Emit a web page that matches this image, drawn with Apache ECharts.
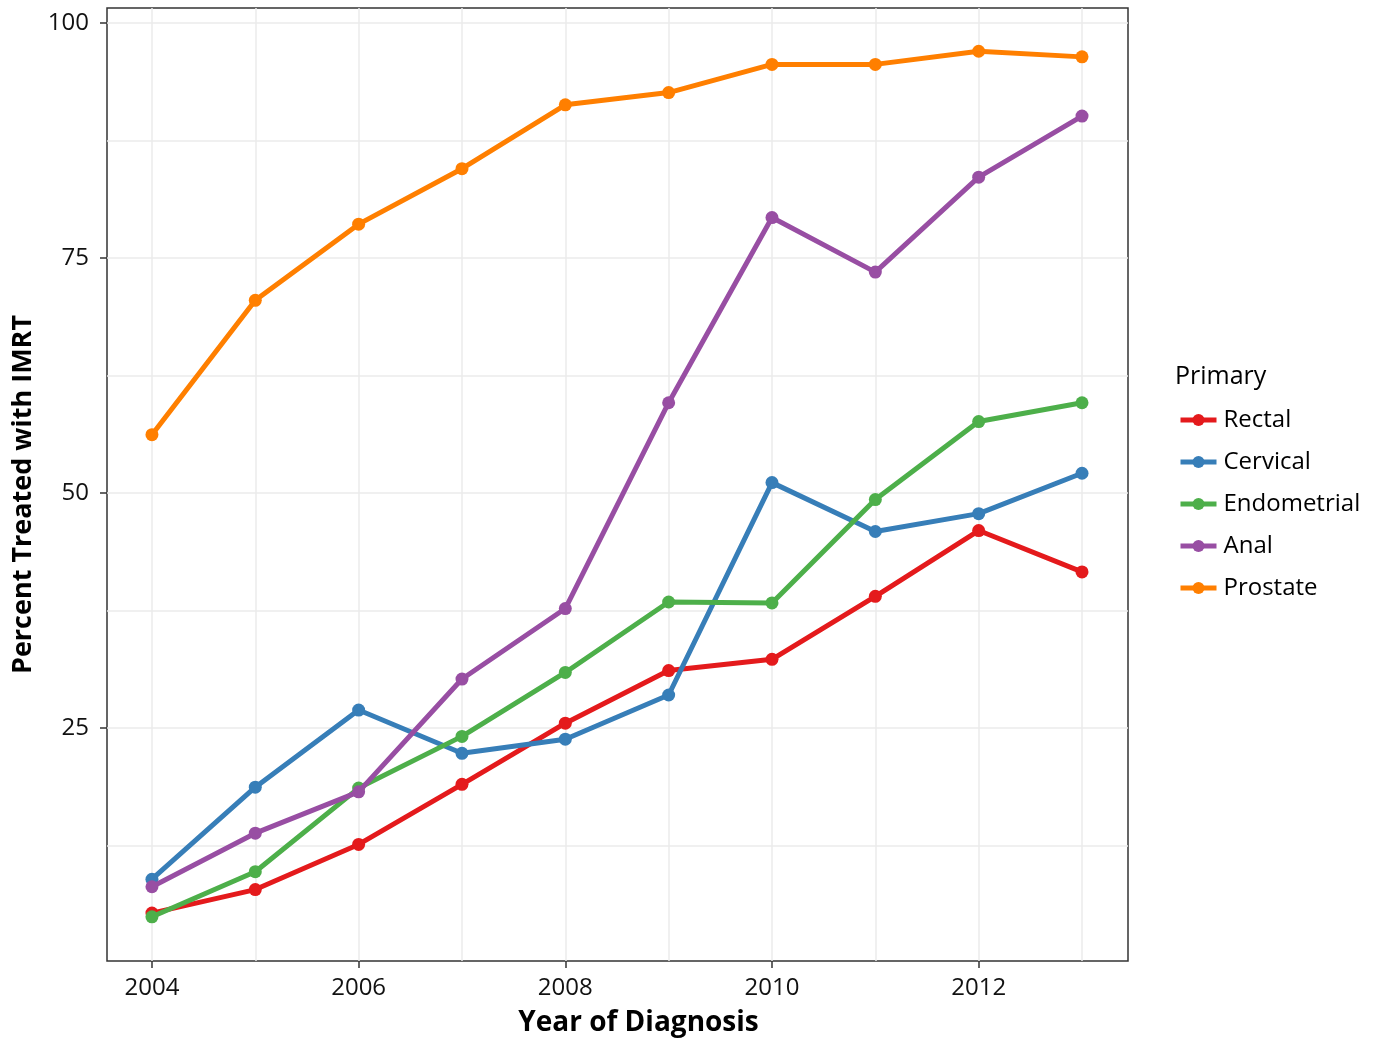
<!DOCTYPE html>
<html>
<head>
<meta charset="utf-8">
<script src="https://cdn.jsdelivr.net/npm/echarts@6/dist/echarts.min.js"></script>
<style>html,body{margin:0;padding:0;background:#fff}#c{width:1375px;height:1045px}</style>
</head>
<body>
<div id="c"></div>
<script>
const years = [2004, 2005, 2006, 2007, 2008, 2009, 2010, 2011, 2012, 2013];
const xTickLabels = [2004, 2006, 2008, 2010, 2012];
const yTickLabels = [25, 50, 75, 100];
const yMinorGrid = [12.5, 25, 37.5, 50, 62.5, 75, 87.5, 100];
const seriesNames = ['Rectal', 'Cervical', 'Endometrial', 'Anal', 'Prostate'];
const rectal      = [5.3, 7.8, 12.6, 19.0, 25.5, 31.1, 32.3, 39.0, 46.0, 41.6];
const cervical    = [8.9, 18.7, 26.9, 22.3, 23.8, 28.5, 51.1, 45.9, 47.8, 52.1];
const endometrial = [4.9, 9.7, 18.6, 24.1, 30.9, 38.4, 38.3, 49.3, 57.6, 59.6];
const anal        = [8.1, 13.8, 18.2, 30.2, 37.7, 59.6, 79.3, 73.5, 83.6, 90.1];
const prostate    = [56.2, 70.5, 78.6, 84.5, 91.3, 92.6, 95.6, 95.6, 97.0, 96.4];
const colors = ['#E41A1C', '#377EB8', '#4DAF4A', '#984EA3', '#FF7F00'];
const allData = [rectal, cervical, endometrial, anal, prostate];

const FONT = 'Open Sans';
const chart = echarts.init(document.getElementById('c'), null, {renderer: 'canvas'});
const gridLine = {show: true, lineStyle: {color: '#ebebeb', width: 1.5}};
const xMin = 2003.565, xMax = 2013.445, yMin = 0.2, yMax = 101.6;

chart.setOption({
  animation: false,
  textStyle: {fontFamily: FONT},
  title: {
    text: 'Primary', left: 1170, top: 359,
    textStyle: {fontFamily: FONT, fontSize: 25, fontWeight: 'normal', color: '#000'}
  },
  legend: {
    orient: 'vertical', left: 1173, top: 403, itemGap: 18,
    itemWidth: 36, itemHeight: 15,
    lineStyle: {width: 5},
    textStyle: {fontFamily: FONT, fontSize: 24, color: '#000', padding: [0, 0, 0, 2]},
    data: seriesNames
  },
  grid: {left: 107, right: 247, top: 8, bottom: 84, show: true, borderColor: '#333', borderWidth: 1.5, backgroundColor: 'transparent'},
  xAxis: [{
    type: 'value', min: xMin, max: xMax,
    name: 'Year of Diagnosis', nameLocation: 'middle', nameGap: 48,
    nameTextStyle: {fontFamily: FONT, fontSize: 28, fontWeight: 'bold', color: '#000', padding: [0, 0, 0, 42]},
    axisLine: {show: false},
    axisTick: {show: true, length: 7, lineStyle: {color: '#333', width: 1.5}, customValues: xTickLabels},
    axisLabel: {customValues: xTickLabels, fontSize: 24, color: '#111', margin: 15, formatter: v => String(v)},
    splitLine: {show: false}
  }, {
    type: 'value', min: xMin, max: xMax, position: 'bottom',
    axisLine: {show: false}, axisLabel: {show: false},
    axisTick: {show: false, customValues: years},
    splitLine: gridLine
  }],
  yAxis: [{
    type: 'value', min: yMin, max: yMax,
    name: 'Percent Treated with IMRT', nameLocation: 'middle', nameGap: 66, nameRotate: 90,
    nameTextStyle: {fontFamily: FONT, fontSize: 27, fontWeight: 'bold', color: '#000', padding: [0, 20, 0, 0]},
    axisLine: {show: false},
    axisTick: {show: true, length: 7, lineStyle: {color: '#333', width: 1.5}, customValues: yTickLabels},
    axisLabel: {customValues: yTickLabels, fontSize: 24, color: '#111', margin: 18, formatter: v => String(v)},
    splitLine: {show: false}
  }, {
    type: 'value', min: yMin, max: yMax, position: 'left',
    axisLine: {show: false}, axisLabel: {show: false},
    axisTick: {show: false, customValues: yMinorGrid},
    splitLine: gridLine
  }],
  series: seriesNames.map((name, i) => ({
    name, type: 'line', xAxisIndex: 0, yAxisIndex: 0,
    data: years.map((y, j) => [y, allData[i][j]]),
    symbol: 'circle', symbolSize: 13,
    lineStyle: {width: 5, color: colors[i]},
    itemStyle: {color: colors[i]},
    z: 3 + i
  }))
});
</script>
</body>
</html>
